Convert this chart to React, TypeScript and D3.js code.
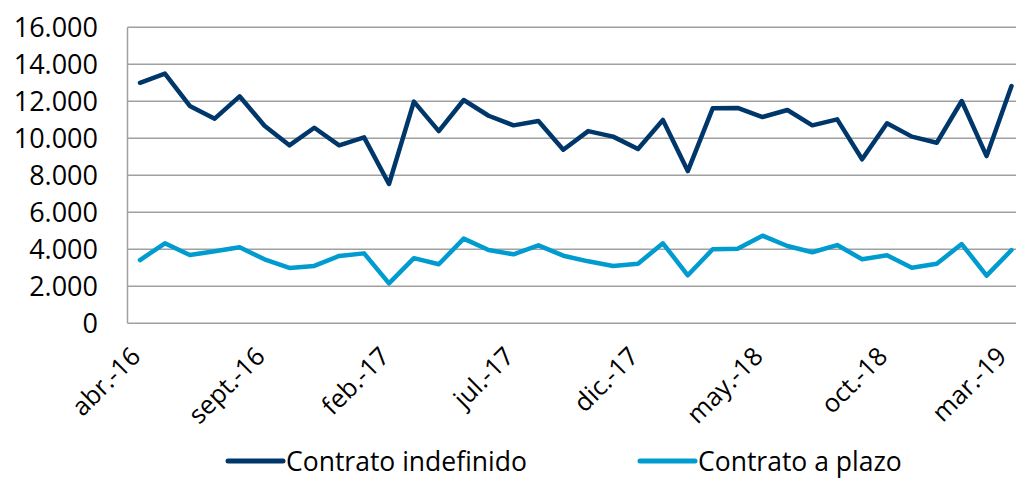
import * as d3 from "d3";
import React, { useRef, useEffect } from "react";

const months = [
  "abr.-16", "may.-16", "jun.-16", "jul.-16", "ago.-16", "sept.-16", "oct.-16", "nov.-16", "dic.-16",
  "ene.-17", "feb.-17", "mar.-17", "abr.-17", "may.-17", "jun.-17", "jul.-17", "ago.-17", "sept.-17",
  "oct.-17", "nov.-17", "dic.-17", "ene.-18", "feb.-18", "mar.-18", "abr.-18", "may.-18", "jun.-18",
  "jul.-18", "ago.-18", "sept.-18", "oct.-18", "nov.-18", "dic.-18", "ene.-19", "feb.-19", "mar.-19",
];

const indefinido = [
  13000, 13500, 11750, 11060, 12270, 10680, 9620, 10570, 9620, 10050, 7530, 11980,
  10390, 12070, 11220, 10700, 10935, 9385, 10390, 10090, 9420, 10990, 8230, 11620,
  11640, 11150, 11530, 10700, 11025, 8865, 10810, 10090, 9760, 12015, 9040, 12825,
];

const plazo = [
  3420, 4325, 3690, 3890, 4110, 3460, 2990, 3100, 3640, 3780, 2160, 3520,
  3190, 4575, 3960, 3730, 4215, 3655, 3350, 3100, 3220, 4325, 2595, 4000,
  4035, 4735, 4180, 3840, 4230, 3460, 3675, 3005, 3220, 4285, 2575, 3960,
];

const yTicks = [0, 2000, 4000, 6000, 8000, 10000, 12000, 14000, 16000];
const xLabels = ["abr.-16", "sept.-16", "feb.-17", "jul.-17", "dic.-17", "may.-18", "oct.-18", "mar.-19"];

const seriesList = [
  { name: "Contrato indefinido", values: indefinido, color: "#00376b" },
  { name: "Contrato a plazo", values: plazo, color: "#009ccf" },
];

const font = "'Open Sans', sans-serif";

const draw = (node: SVGSVGElement) => {
  const width = 1016;
  const height = 479;
  const plotLeft = 127.5;

  const svg = d3.select(node);
  svg.selectAll("*").remove();
  svg.attr("width", width).attr("height", height);

  const x = d3.scalePoint<string>().domain(months).range([140, 1011.5]);
  const y = d3.scaleLinear().domain([0, 16000]).range([323.3, 27.3]);

  const fmt = (v: number) => d3.format(",")(v).replace(/,/g, ".");

  // gridlines
  svg
    .append("g")
    .selectAll("line")
    .data(yTicks)
    .join("line")
    .attr("x1", plotLeft)
    .attr("x2", width)
    .attr("y1", (d) => y(d))
    .attr("y2", (d) => y(d))
    .style("stroke", "#a0a0a0")
    .style("stroke-width", "1.5px");

  // left axis line
  svg
    .append("line")
    .attr("x1", plotLeft)
    .attr("x2", plotLeft)
    .attr("y1", y(16000))
    .attr("y2", y(0))
    .style("stroke", "#a0a0a0")
    .style("stroke-width", "1.5px");

  // y labels
  svg
    .append("g")
    .selectAll("text")
    .data(yTicks)
    .join("text")
    .attr("x", 98)
    .attr("y", (d) => y(d))
    .attr("dy", "0.36em")
    .style("text-anchor", "end")
    .style("font-family", font)
    .style("font-size", "27px")
    .style("fill", "#000")
    .text((d) => fmt(d));

  // x labels (last one kept inside the picture)
  svg
    .append("g")
    .selectAll("text")
    .data(xLabels)
    .join("text")
    .attr(
      "transform",
      (d) => `translate(${Math.min((x(d) as number) + 2, 1008)},${358}) rotate(-45)`
    )
    .style("text-anchor", "end")
    .style("font-family", font)
    .style("font-size", "25.5px")
    .style("fill", "#000")
    .text((d) => d);

  const line = d3
    .line<number>()
    .x((d, i) => x(months[i]) as number)
    .y((d) => y(d));

  seriesList.forEach((s) => {
    svg
      .append("path")
      .datum(s.values)
      .attr("d", line)
      .style("fill", "none")
      .style("stroke", s.color)
      .style("stroke-width", "4.5px")
      .style("stroke-linejoin", "round")
      .style("stroke-linecap", "round");
  });

  // legend
  const legendX = [228, 640];
  const legend = svg
    .append("g")
    .selectAll("g")
    .data(seriesList)
    .join("g")
    .attr("transform", (d, i) => `translate(${legendX[i]},461)`);

  legend
    .append("line")
    .attr("x1", 0)
    .attr("x2", 55)
    .style("stroke", (d) => d.color)
    .style("stroke-width", "5px")
    .style("stroke-linecap", "round");

  legend
    .append("text")
    .attr("x", 58)
    .attr("dy", "0.36em")
    .style("font-family", font)
    .style("font-size", "26.5px")
    .style("fill", "#000")
    .text((d) => d.name);
};

const App = () => {
  const myRef = useRef<SVGSVGElement>(null);

  useEffect(() => {
    if (myRef.current) draw(myRef.current);
  }, []);

  return (
    <svg
      ref={myRef}
      style={{ position: "absolute", left: 0, top: 0, background: "#fff" }}
    ></svg>
  );
};

export default App;
